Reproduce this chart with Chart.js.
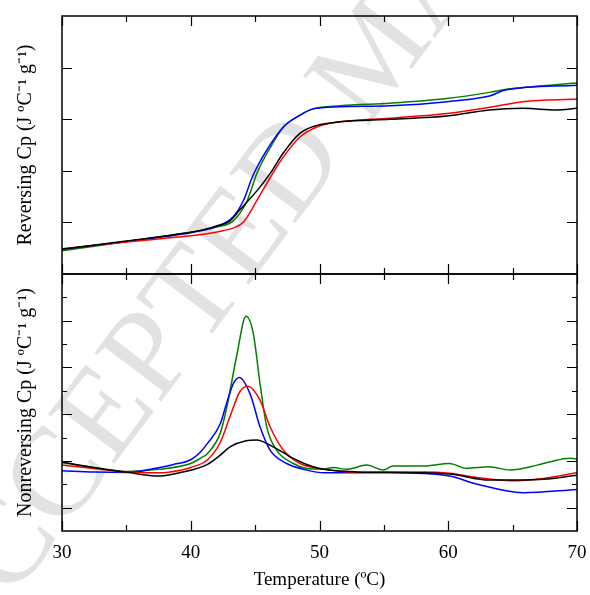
<!DOCTYPE html>
<html>
<head>
<meta charset="utf-8">
<script src="https://cdn.jsdelivr.net/npm/chart.js@4.4.0/dist/chart.umd.min.js"></script>
<style>
  body { margin: 0; background: #fff; }
  #wrap { position: relative; width: 590px; height: 595px; overflow: hidden; }
  #wm {
    position: absolute; left: -135px; top: 605px;
    font-family: 'Liberation Serif', serif; font-size: 126px; color: #e2e2e2;
    white-space: nowrap; transform-origin: 0 0; transform: rotate(-53deg);
    z-index: 0;
  }
  canvas { position: absolute; left: 0; z-index: 1; }
  #top { top: 0; }
  #bot { top: 260px; }
</style>
</head>
<body>
<div id="wrap">
  <div id="wm">ACCEPTED MANUSCRIPT</div>
  <canvas id="top" width="590" height="280"></canvas>
  <canvas id="bot" width="590" height="335"></canvas>
</div>
<script>
// reversing Cp (top panel), arbitrary units
const revBlackT = [30, 35, 40, 41, 42, 43, 43.8, 45.2, 46.2, 47.2, 48.5, 49.8, 51.6, 55.5, 59.9, 63.2, 65.8, 68.4, 70];
const revBlack  = [0.48, 0.64, 0.81, 0.86, 0.93, 1.02, 1.24, 1.63, 1.96, 2.35, 2.73, 2.88, 2.95, 3.00, 3.06, 3.18, 3.21, 3.18, 3.21];
const revRedT   = [30, 35, 40, 41, 42.5, 43.3, 44.1, 45.15, 46.2, 47.2, 48.5, 49.8, 51.6, 55.5, 59.9, 63.2, 65.8, 70];
const revRed    = [0.49, 0.62, 0.74, 0.77, 0.84, 0.89, 1.01, 1.43, 1.88, 2.27, 2.66, 2.85, 2.95, 3.02, 3.11, 3.23, 3.34, 3.39];
const revBlueT  = [30, 35, 40, 41, 42, 43.3, 44.1, 44.8, 45.9, 47.2, 48.5, 49.5, 51.6, 55.5, 59.9, 63.2, 64.5, 70];
const revBlue   = [0.48, 0.63, 0.80, 0.85, 0.92, 1.11, 1.43, 1.89, 2.40, 2.85, 3.08, 3.20, 3.24, 3.26, 3.34, 3.45, 3.57, 3.66];
const revGreenT = [30, 35, 40, 41, 42, 43.3, 44.4, 45.15, 46.2, 47.2, 48.5, 49.5, 51.6, 55.5, 59.9, 63.2, 64.5, 70];
const revGreen  = [0.45, 0.63, 0.81, 0.85, 0.91, 1.03, 1.43, 1.96, 2.46, 2.85, 3.08, 3.20, 3.26, 3.31, 3.40, 3.52, 3.58, 3.70];

// nonreversing Cp (bottom panel)
const nonBlackT = [30, 32.5, 35, 37.5, 39.2, 40, 41.3, 42.3, 43.05, 44.3, 45.1, 46.4, 47.96, 49.5, 50.3, 52.9, 55.5, 60.1, 63.2, 65.8, 67.4, 70];
const nonBlack  = [2.95, 2.71, 2.52, 2.35, 2.50, 2.60, 2.85, 3.25, 3.60, 3.86, 3.89, 3.60, 3.11, 2.75, 2.64, 2.53, 2.51, 2.44, 2.18, 2.18, 2.21, 2.39];
const nonRedT   = [30, 32.5, 35, 37.5, 39.2, 40, 41.3, 42.3, 43.05, 43.8, 44.45, 45.38, 46.16, 47.2, 48.5, 50, 52.9, 58.06, 60.1, 62.2, 64.8, 67.4, 70];
const nonRed    = [2.82, 2.68, 2.52, 2.49, 2.60, 2.72, 3.05, 3.80, 4.90, 5.95, 6.20, 5.60, 4.46, 3.46, 2.89, 2.68, 2.51, 2.52, 2.47, 2.29, 2.15, 2.25, 2.49];
const nonBlueT  = [30, 32.5, 35, 37.4, 38.6, 40, 40.7, 41.3, 42.3, 42.8, 43.3, 43.77, 44.6, 45.38, 46.16, 47.45, 49, 50.3, 55.5, 60.1, 62.2, 65.8, 70];
const nonBlue   = [2.58, 2.52, 2.50, 2.70, 2.84, 3.05, 3.35, 3.75, 4.60, 5.50, 6.30, 6.57, 5.88, 4.46, 3.46, 2.89, 2.61, 2.49, 2.49, 2.35, 2.01, 1.64, 1.78];
const nonGreenT = [30, 32.5, 35, 37.5, 40, 40.7, 41.3, 42.3, 42.8, 43.57, 44.29, 44.86, 45.38, 45.9, 46.67, 47.96, 49, 50.3, 51.07, 52.1, 53.67, 54.96, 55.7, 58.06, 60.1, 61.4, 63.2, 64.8, 66.9, 67.9, 69.46, 70];
const nonGreen  = [2.92, 2.72, 2.55, 2.64, 2.89, 3.10, 3.32, 4.20, 5.30, 7.50, 9.19, 8.45, 6.31, 4.46, 3.46, 2.89, 2.68, 2.65, 2.72, 2.64, 2.82, 2.61, 2.78, 2.78, 2.89, 2.68, 2.75, 2.61, 2.82, 2.96, 3.11, 3.08];

const xTicks = [30, 35, 40, 45, 50, 55, 60, 65, 70];
const xLabels = [30, 40, 50, 60, 70];
const topYTicks = [1, 2, 3, 4];
const botYTicks = [1, 2, 3, 4, 5, 6, 7, 8, 9, 10];

function pts(xs, ys) {
    return xs.map((x, i) => ({ x: x, y: ys[i] }));
}

function line(xs, ys, color) {
    return {
        data: pts(xs, ys),
        borderColor: color,
        borderWidth: 1.5,
        pointRadius: 0,
        fill: false,
        cubicInterpolationMode: 'monotone'
    };
}

// frame + inward ticks on all four sides
const frame = {
    id: 'frame',
    afterDatasetsDraw(chart, args, opts) {
        const c = chart.ctx, a = chart.chartArea;
        const xs = chart.scales.x, ys = chart.scales.y;
        c.save();
        c.strokeStyle = '#000';
        c.lineWidth = 1.5;
        c.strokeRect(a.left, a.top, a.right - a.left, a.bottom - a.top);
        c.lineWidth = 1.2;
        c.beginPath();
        xTicks.forEach(v => {
            const px = Math.round(xs.getPixelForValue(v)) + 0.5;
            const len = v % 10 === 0 ? 10 : 6;
            c.moveTo(px, a.top); c.lineTo(px, a.top + len);
            c.moveTo(px, a.bottom); c.lineTo(px, a.bottom - len);
        });
        opts.yTicks.forEach(v => {
            const py = Math.round(ys.getPixelForValue(v)) + 0.5;
            const len = opts.alt && v % 2 === 0 ? 5 : 10;
            c.moveTo(a.left, py); c.lineTo(a.left + len, py);
            c.moveTo(a.right, py); c.lineTo(a.right - len, py);
        });
        c.stroke();
        c.restore();
    }
};

const serif = "'Liberation Serif', 'Times New Roman', serif";

function yTitle(text) {
    return {
        display: true,
        text: text,
        color: '#000',
        font: { family: serif, size: 20 },
        padding: { top: 14, bottom: 0 }
    };
}

new Chart(document.getElementById('top'), {
    type: 'line',
    data: {
        datasets: [
            line(revBlackT, revBlack, '#000000'),
            line(revRedT, revRed, '#ff0000'),
            line(revBlueT, revBlue, '#0000ff'),
            line(revGreenT, revGreen, '#008000')
        ]
    },
    options: {
        responsive: false,
        animation: false,
        layout: { padding: { left: 0, top: 16, right: 13, bottom: 6 } },
        plugins: { legend: { display: false }, tooltip: { enabled: false }, frame: { yTicks: topYTicks, alt: false } },
        scales: {
            x: { type: 'linear', min: 30, max: 70, display: false },
            y: {
                min: 0, max: 5,
                grid: { display: false, drawTicks: false },
                border: { display: false },
                ticks: { display: false },
                title: yTitle('Reversing Cp (J ºC⁻¹ g⁻¹)'),
                afterFit(s) { s.width = 62; }
            }
        }
    },
    plugins: [frame]
});

new Chart(document.getElementById('bot'), {
    type: 'line',
    data: {
        datasets: [
            line(nonBlackT, nonBlack, '#000000'),
            line(nonRedT, nonRed, '#ff0000'),
            line(nonBlueT, nonBlue, '#0000ff'),
            line(nonGreenT, nonGreen, '#008000')
        ]
    },
    options: {
        responsive: false,
        animation: false,
        layout: { padding: { left: 0, top: 14, right: 13, bottom: 0 } },
        plugins: { legend: { display: false }, tooltip: { enabled: false }, frame: { yTicks: botYTicks, alt: true } },
        scales: {
            x: {
                type: 'linear', min: 30, max: 70,
                afterBuildTicks(s) { s.ticks = xLabels.map(v => ({ value: v })); },
                grid: { display: false, drawTicks: false },
                border: { display: false },
                ticks: { color: '#000', font: { family: serif, size: 19 }, padding: 11, maxRotation: 0 },
                title: {
                    display: true, text: 'Temperature (ºC)', color: '#000',
                    font: { family: serif, size: 19 }, padding: { top: 0, bottom: 4 }
                },
                afterFit(s) { s.height = 64; s.paddingLeft = 0; s.paddingRight = 0; }
            },
            y: {
                min: 0, max: 11,
                grid: { display: false, drawTicks: false },
                border: { display: false },
                ticks: { display: false },
                title: yTitle('Nonreversing Cp (J ºC⁻¹ g⁻¹)'),
                afterFit(s) { s.width = 62; }
            }
        }
    },
    plugins: [frame]
});
</script>
</body>
</html>
